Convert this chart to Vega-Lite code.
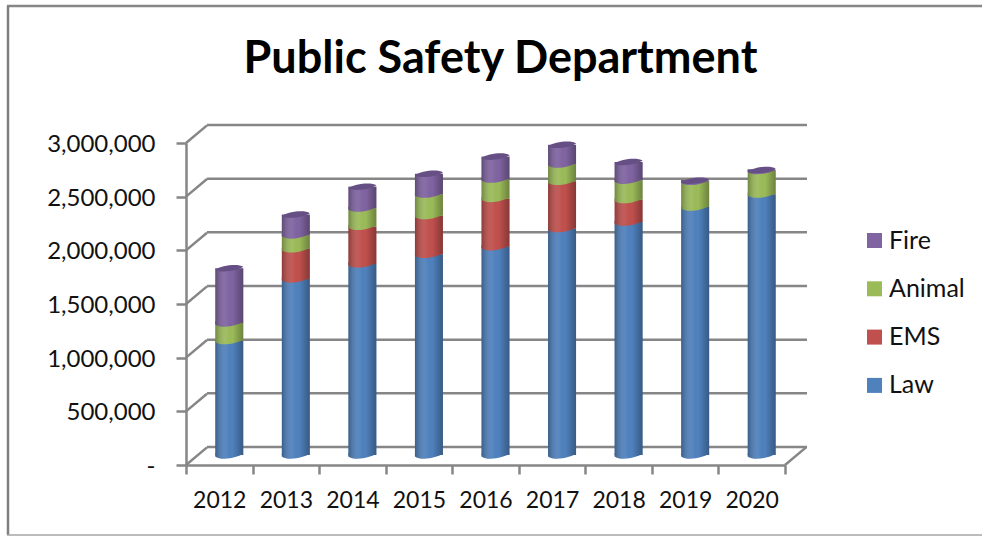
{
  "$schema": "https://vega.github.io/schema/vega-lite/v6.json",
  "autosize": {"type": "none"},
  "width": 975,
  "height": 530,
  "padding": {"left": 7, "top": 6, "right": 0, "bottom": 0},
  "background": "#ffffff",
  "view": {"stroke": null, "fill": "#ffffff"},
  "title": {
    "text": "Public Safety Department",
    "font": "Lato",
    "fontWeight": "bold",
    "fontSize": 45,
    "color": "#000000",
    "anchor": "middle",
    "dx": 6,
    "offset": -77
  },
  "datasets": {
    "budget": [
      {"year": "2012", "division": "Law", "amount": 1065000},
      {"year": "2012", "division": "Animal", "amount": 165000},
      {"year": "2012", "division": "Fire", "amount": 510000},
      {"year": "2013", "division": "Law", "amount": 1640000},
      {"year": "2013", "division": "EMS", "amount": 280000},
      {"year": "2013", "division": "Animal", "amount": 130000},
      {"year": "2013", "division": "Fire", "amount": 190000},
      {"year": "2014", "division": "Law", "amount": 1780000},
      {"year": "2014", "division": "EMS", "amount": 350000},
      {"year": "2014", "division": "Animal", "amount": 170000},
      {"year": "2014", "division": "Fire", "amount": 200000},
      {"year": "2015", "division": "Law", "amount": 1870000},
      {"year": "2015", "division": "EMS", "amount": 360000},
      {"year": "2015", "division": "Animal", "amount": 200000},
      {"year": "2015", "division": "Fire", "amount": 190000},
      {"year": "2016", "division": "Law", "amount": 1940000},
      {"year": "2016", "division": "EMS", "amount": 450000},
      {"year": "2016", "division": "Animal", "amount": 180000},
      {"year": "2016", "division": "Fire", "amount": 210000},
      {"year": "2017", "division": "Law", "amount": 2110000},
      {"year": "2017", "division": "EMS", "amount": 440000},
      {"year": "2017", "division": "Animal", "amount": 160000},
      {"year": "2017", "division": "Fire", "amount": 180000},
      {"year": "2018", "division": "Law", "amount": 2170000},
      {"year": "2018", "division": "EMS", "amount": 210000},
      {"year": "2018", "division": "Animal", "amount": 180000},
      {"year": "2018", "division": "Fire", "amount": 170000},
      {"year": "2019", "division": "Law", "amount": 2310000},
      {"year": "2019", "division": "Animal", "amount": 240000},
      {"year": "2019", "division": "Fire", "amount": 5000},
      {"year": "2020", "division": "Law", "amount": 2430000},
      {"year": "2020", "division": "Animal", "amount": 220000},
      {"year": "2020", "division": "Fire", "amount": 5000}
    ],
    "levels": [
      {"level": 0}, {"level": 500000}, {"level": 1000000},
      {"level": 1500000}, {"level": 2000000}, {"level": 2500000}, {"level": 3000000}
    ]
  },
  "encoding": {
    "y": {
      "type": "quantitative",
      "scale": {"domain": [0, 3000000], "range": [459, 137], "nice": false, "zero": false}
    }
  },
  "layer": [
    {
      "data": {"values": [{"edge": "top"}]},
      "mark": {"type": "rule", "color": "#868686", "strokeWidth": 2.5},
      "encoding": {"x": {"value": 0}, "x2": {"value": 975}, "y": {"value": 0}}
    },
    {
      "data": {"values": [{"edge": "left"}]},
      "mark": {"type": "rule", "color": "#7f7f7f", "strokeWidth": 2.5},
      "encoding": {"x": {"value": 1}, "y": {"value": 0}, "y2": {"value": 529}}
    },
    {
      "data": {"values": [{"edge": "bottom"}]},
      "mark": {"type": "rule", "color": "#a6a6a6", "strokeWidth": 1.5},
      "encoding": {"x": {"value": 0}, "x2": {"value": 975}, "y": {"value": 529}}
    },
    {
      "data": {"name": "levels"},
      "mark": {"type": "rule", "color": "#868686", "strokeWidth": 2.5, "yOffset": -18},
      "encoding": {
        "x": {"value": 200},
        "x2": {"value": 800},
        "y": {"field": "level", "type": "quantitative", "axis": {
          "orient": "left", "offset": -179, "title": null,
          "values": [0, 500000, 1000000, 1500000, 2000000, 2500000, 3000000],
          "labelExpr": "datum.value === 0 ? '-' : format(datum.value, ',')",
          "labelFont": "Lato", "labelFontSize": 24, "labelColor": "#111111", "labelPadding": 21, "labelOffset": 1.5,
          "tickColor": "#868686", "tickWidth": 2.5, "tickSize": 10,
          "domainColor": "#868686", "domainWidth": 2.5, "grid": false
        }}
      }
    },
    {
      "data": {"name": "levels"},
      "mark": {"type": "point", "shape": "M0,0L1,-0.84", "size": 1764, "filled": false, "stroke": "#868686", "strokeWidth": 2.5, "opacity": 1},
      "encoding": {
        "x": {"value": 179},
        "y": {"field": "level", "type": "quantitative"}
      }
    },
    {
      "data": {"values": [{"level": 0}]},
      "mark": {"type": "point", "shape": "M0,0L1,-0.84", "size": 1764, "filled": false, "stroke": "#868686", "strokeWidth": 2.5, "opacity": 1},
      "encoding": {
        "x": {"value": 778},
        "y": {"field": "level", "type": "quantitative"}
      }
    },
    {
      "data": {"name": "budget"},
      "transform": [
        {"stack": "amount", "groupby": ["year"], "as": ["base", "top"]}
      ],
      "encoding": {
        "x": {
          "field": "year",
          "type": "nominal",
          "scale": {"range": [179, 778], "paddingInner": 0, "paddingOuter": 0},
          "axis": {
            "orient": "bottom", "offset": -71, "title": null, "labelAngle": 0,
            "tickBand": "extent",
            "labelFont": "Lato", "labelFontSize": 23, "labelColor": "#111111", "labelPadding": 15,
            "tickColor": "#868686", "tickWidth": 2.5, "tickSize": 9,
            "domainColor": "#868686", "domainWidth": 2.5, "grid": false
          }
        }
      },
      "layer": [
        {
          "mark": {"type": "bar", "width": 28, "xOffset": 10, "yOffset": -10, "y2Offset": -10},
          "encoding": {
            "y": {"field": "base", "type": "quantitative"},
            "y2": {"field": "top"},
            "color": {
              "field": "division",
              "type": "nominal",
              "scale": {
                "domain": ["Fire", "Animal", "EMS", "Law"],
                "range": ["#8064a2", "#9bbb59", "#c0504d", "#4f81bd"]
              },
              "legend": {
                "title": null, "orient": "none", "legendX": 855, "legendY": 222,
                "symbolType": "square", "symbolSize": 225, "symbolStrokeWidth": 0,
                "labelFont": "Lato", "labelFontSize": 25, "labelColor": "#111111",
                "labelOffset": 2, "rowPadding": 22.3, "symbolOpacity": 1
              }
            }
          }
        },
        {
          "mark": {
            "type": "bar", "width": 28, "xOffset": 10, "yOffset": -10, "y2Offset": -10,
            "color": {
              "gradient": "linear", "x1": 0, "x2": 1, "y1": 0, "y2": 0,
              "stops": [
                {"offset": 0, "color": "rgba(0,0,0,0.28)"},
                {"offset": 0.4, "color": "rgba(255,255,255,0.05)"},
                {"offset": 0.62, "color": "rgba(0,0,0,0)"},
                {"offset": 1, "color": "rgba(0,0,0,0.3)"}
              ]
            }
          },
          "encoding": {
            "y": {"field": "base", "type": "quantitative"},
            "y2": {"field": "top"}
          }
        },
        {
          "mark": {"type": "point", "shape": "M-1,-0.1L-1,0.1C-0.6,0.42,0.6,0.22,1,-0.1Z", "size": 784, "filled": true, "opacity": 1, "xOffset": 10, "yOffset": -10},
          "encoding": {
            "y": {"field": "base", "type": "quantitative"},
            "color": {"field": "division", "type": "nominal", "legend": null}
          }
        },
        {
          "mark": {
            "type": "point", "shape": "M-1,-0.1L-1,0.1C-0.6,0.42,0.6,0.22,1,-0.1Z", "size": 784, "filled": true, "opacity": 1, "xOffset": 10, "yOffset": -10,
            "color": {
              "gradient": "linear", "x1": 0, "x2": 1, "y1": 0, "y2": 0,
              "stops": [
                {"offset": 0, "color": "rgba(0,0,0,0.28)"},
                {"offset": 0.4, "color": "rgba(255,255,255,0.05)"},
                {"offset": 0.62, "color": "rgba(0,0,0,0)"},
                {"offset": 1, "color": "rgba(0,0,0,0.3)"}
              ]
            }
          },
          "encoding": {
            "y": {"field": "base", "type": "quantitative"}
          }
        },
        {
          "transform": [{"filter": "datum.division === 'Fire'"}],
          "mark": {"type": "point", "shape": "M-1,0.1C-0.6,0.38,0.6,0.18,1,-0.1C0.6,-0.38,-0.6,-0.18,-1,0.1Z", "size": 784, "filled": true, "opacity": 1, "color": "#664f84", "xOffset": 10, "yOffset": -10},
          "encoding": {
            "y": {"field": "top", "type": "quantitative"}
          }
        }
      ]
    }
  ]
}
